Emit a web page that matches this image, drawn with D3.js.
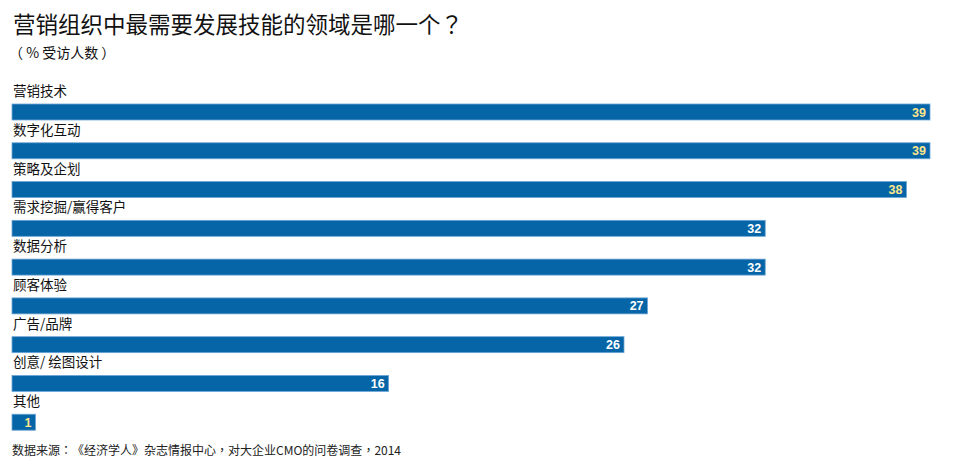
<!DOCTYPE html>
<html><head><meta charset="utf-8">
<script src="https://cdn.jsdelivr.net/npm/d3@7"></script>
<style>
body{margin:0;background:#fff;}
text{font-family:"Noto Sans CJK SC","Noto Sans",sans-serif;text-spacing-trim:space-all;}
tspan.p{font-family:"Noto Sans CJK TC","Noto Sans CJK SC",sans-serif;}
</style></head>
<body><svg id="c" width="978" height="475"></svg>
<script>
const categories = ["营销技术","数字化互动","策略及企划","需求挖掘/赢得客户","数据分析","顾客体验","广告/品牌","创意/ 绘图设计","其他"];
const values = [39,39,38,32,32,27,26,16,1];
const highlight = [true,true,true,false,false,false,false,false,true];
const title = "营销组织中最需要发展技能的领域是哪一个？";
const subtitle = "（ % 受访人数 ）";
const source = "数据来源：《经济学人》杂志情报中心，对大企业CMO的问卷调查，2014";

const svg = d3.select("#c");
const x = d3.scaleLinear().domain([0,39]).range([12,930]);
const y = d3.scaleBand().domain(categories).range([85,434]).paddingInner(0).paddingOuter(0);
const barH = 16, barOff = 19;

// write text with centered-punctuation runs
function runs(sel, str){
  const parts = str.split(/([：，？])/).filter(s=>s.length);
  sel.selectAll("tspan").data(parts).join("tspan")
    .attr("class",d=>/^[：，？]$/.test(d)?"p":null).text(d=>d);
}
runs(svg.append("text").attr("x",13).attr("y",33).attr("font-size",22.5).attr("fill","#111"), title);
svg.append("text").attr("x",9).attr("y",58).attr("font-size",14).attr("fill","#111").text(subtitle);

const g = svg.selectAll("g.row").data(categories).join("g").attr("class","row");
g.append("text").attr("x",13).attr("y",d=>y(d)+11).attr("font-size",13.5).attr("fill","#111").text(d=>d);
g.append("rect").attr("x",x(0)).attr("y",d=>y(d)+barOff).attr("height",barH)
  .attr("width",(d,i)=>x(values[i])-x(0))
  .attr("fill","#0565a7").attr("stroke","#6ea6d6").attr("stroke-width",0.8);
g.append("text").attr("x",(d,i)=>x(values[i])-4).attr("y",d=>y(d)+barOff+12.5)
  .attr("text-anchor","end").attr("font-size",12.5).attr("font-weight","bold")
  .style("font-family","'Liberation Sans Narrow','Liberation Sans',sans-serif")
  .attr("fill",(d,i)=>highlight[i]?"#fde58b":"#ffffff").text((d,i)=>values[i]);

runs(svg.append("text").attr("x",12).attr("y",455).attr("font-size",12).attr("fill","#222"), source);
</script></body></html>
